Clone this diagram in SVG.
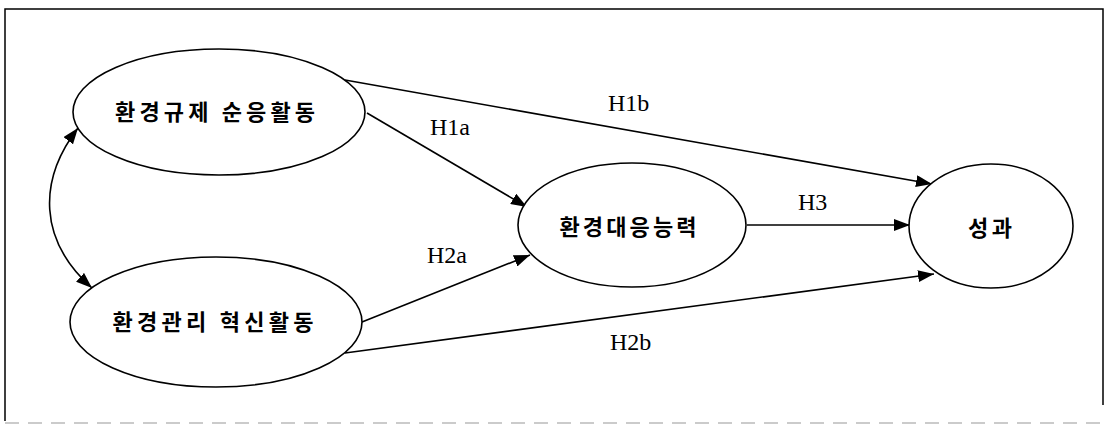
<svg xmlns="http://www.w3.org/2000/svg" width="1104" height="425" viewBox="0 0 1104 425">
<style>
.node ellipse{fill:#fff;stroke:#000;stroke-width:1.6}
.kt{font-family:"Noto Sans CJK KR","Noto Sans",sans-serif;font-size:22px;font-weight:bold;fill:#000;text-anchor:middle;dominant-baseline:central}
.lbl{font-family:"Liberation Serif","Times New Roman",serif;font-size:24px;fill:#000}
.conn line,.conn path{stroke:#000;stroke-width:1.6;fill:none}
</style>
<defs>
<marker id="ah" viewBox="0 0 16 12" refX="16" refY="6" markerWidth="16" markerHeight="12" markerUnits="userSpaceOnUse" orient="auto-start-reverse">
<path d="M0,0 L16,6 L0,12 z" fill="#000"/>
</marker>
</defs>
<rect width="1104" height="425" fill="#fff"/>
<g id="frame" stroke="#000" fill="none">
<path d="M5,421 L5,9 L1103,9 L1103,405" stroke-width="1.5"/>
<line x1="5" y1="423" x2="1100" y2="423" stroke="#bbb" stroke-width="1.5" stroke-dasharray="14,9"/>
</g>
<g class="conn" id="connectors">
<path d="M78,128 C38,180 38,240 92,288" marker-start="url(#ah)" marker-end="url(#ah)"/>
<line x1="345" y1="80" x2="932" y2="184" marker-end="url(#ah)"/>
<line x1="367" y1="113" x2="527" y2="207" marker-end="url(#ah)"/>
<line x1="362" y1="322" x2="530" y2="255" marker-end="url(#ah)"/>
<line x1="747" y1="225" x2="910" y2="225" marker-end="url(#ah)"/>
<line x1="345" y1="353" x2="934" y2="274" marker-end="url(#ah)"/>
</g>
<g id="node-compliance" class="node">
<ellipse cx="219" cy="112" rx="146" ry="63"/>
<text class="kt" x="215" y="110" textLength="200" lengthAdjust="spacing">환경규제 순응활동</text>
</g>
<g id="node-innovation" class="node">
<ellipse cx="216" cy="322" rx="146" ry="65"/>
<text class="kt" x="213" y="320" textLength="201" lengthAdjust="spacing">환경관리 혁신활동</text>
</g>
<g id="node-capability" class="node">
<ellipse cx="632" cy="225" rx="114" ry="62"/>
<text class="kt" x="628" y="225" textLength="137" lengthAdjust="spacing">환경대응능력</text>
</g>
<g id="node-performance" class="node">
<ellipse cx="991" cy="226" rx="82" ry="62"/>
<text class="kt" x="990" y="226" textLength="44" lengthAdjust="spacing">성과</text>
</g>
<g id="labels" class="lbl">
<text x="608" y="111">H1b</text>
<text x="430" y="135">H1a</text>
<text x="427" y="263">H2a</text>
<text x="798" y="210">H3</text>
<text x="610" y="350">H2b</text>
</g>
</svg>
